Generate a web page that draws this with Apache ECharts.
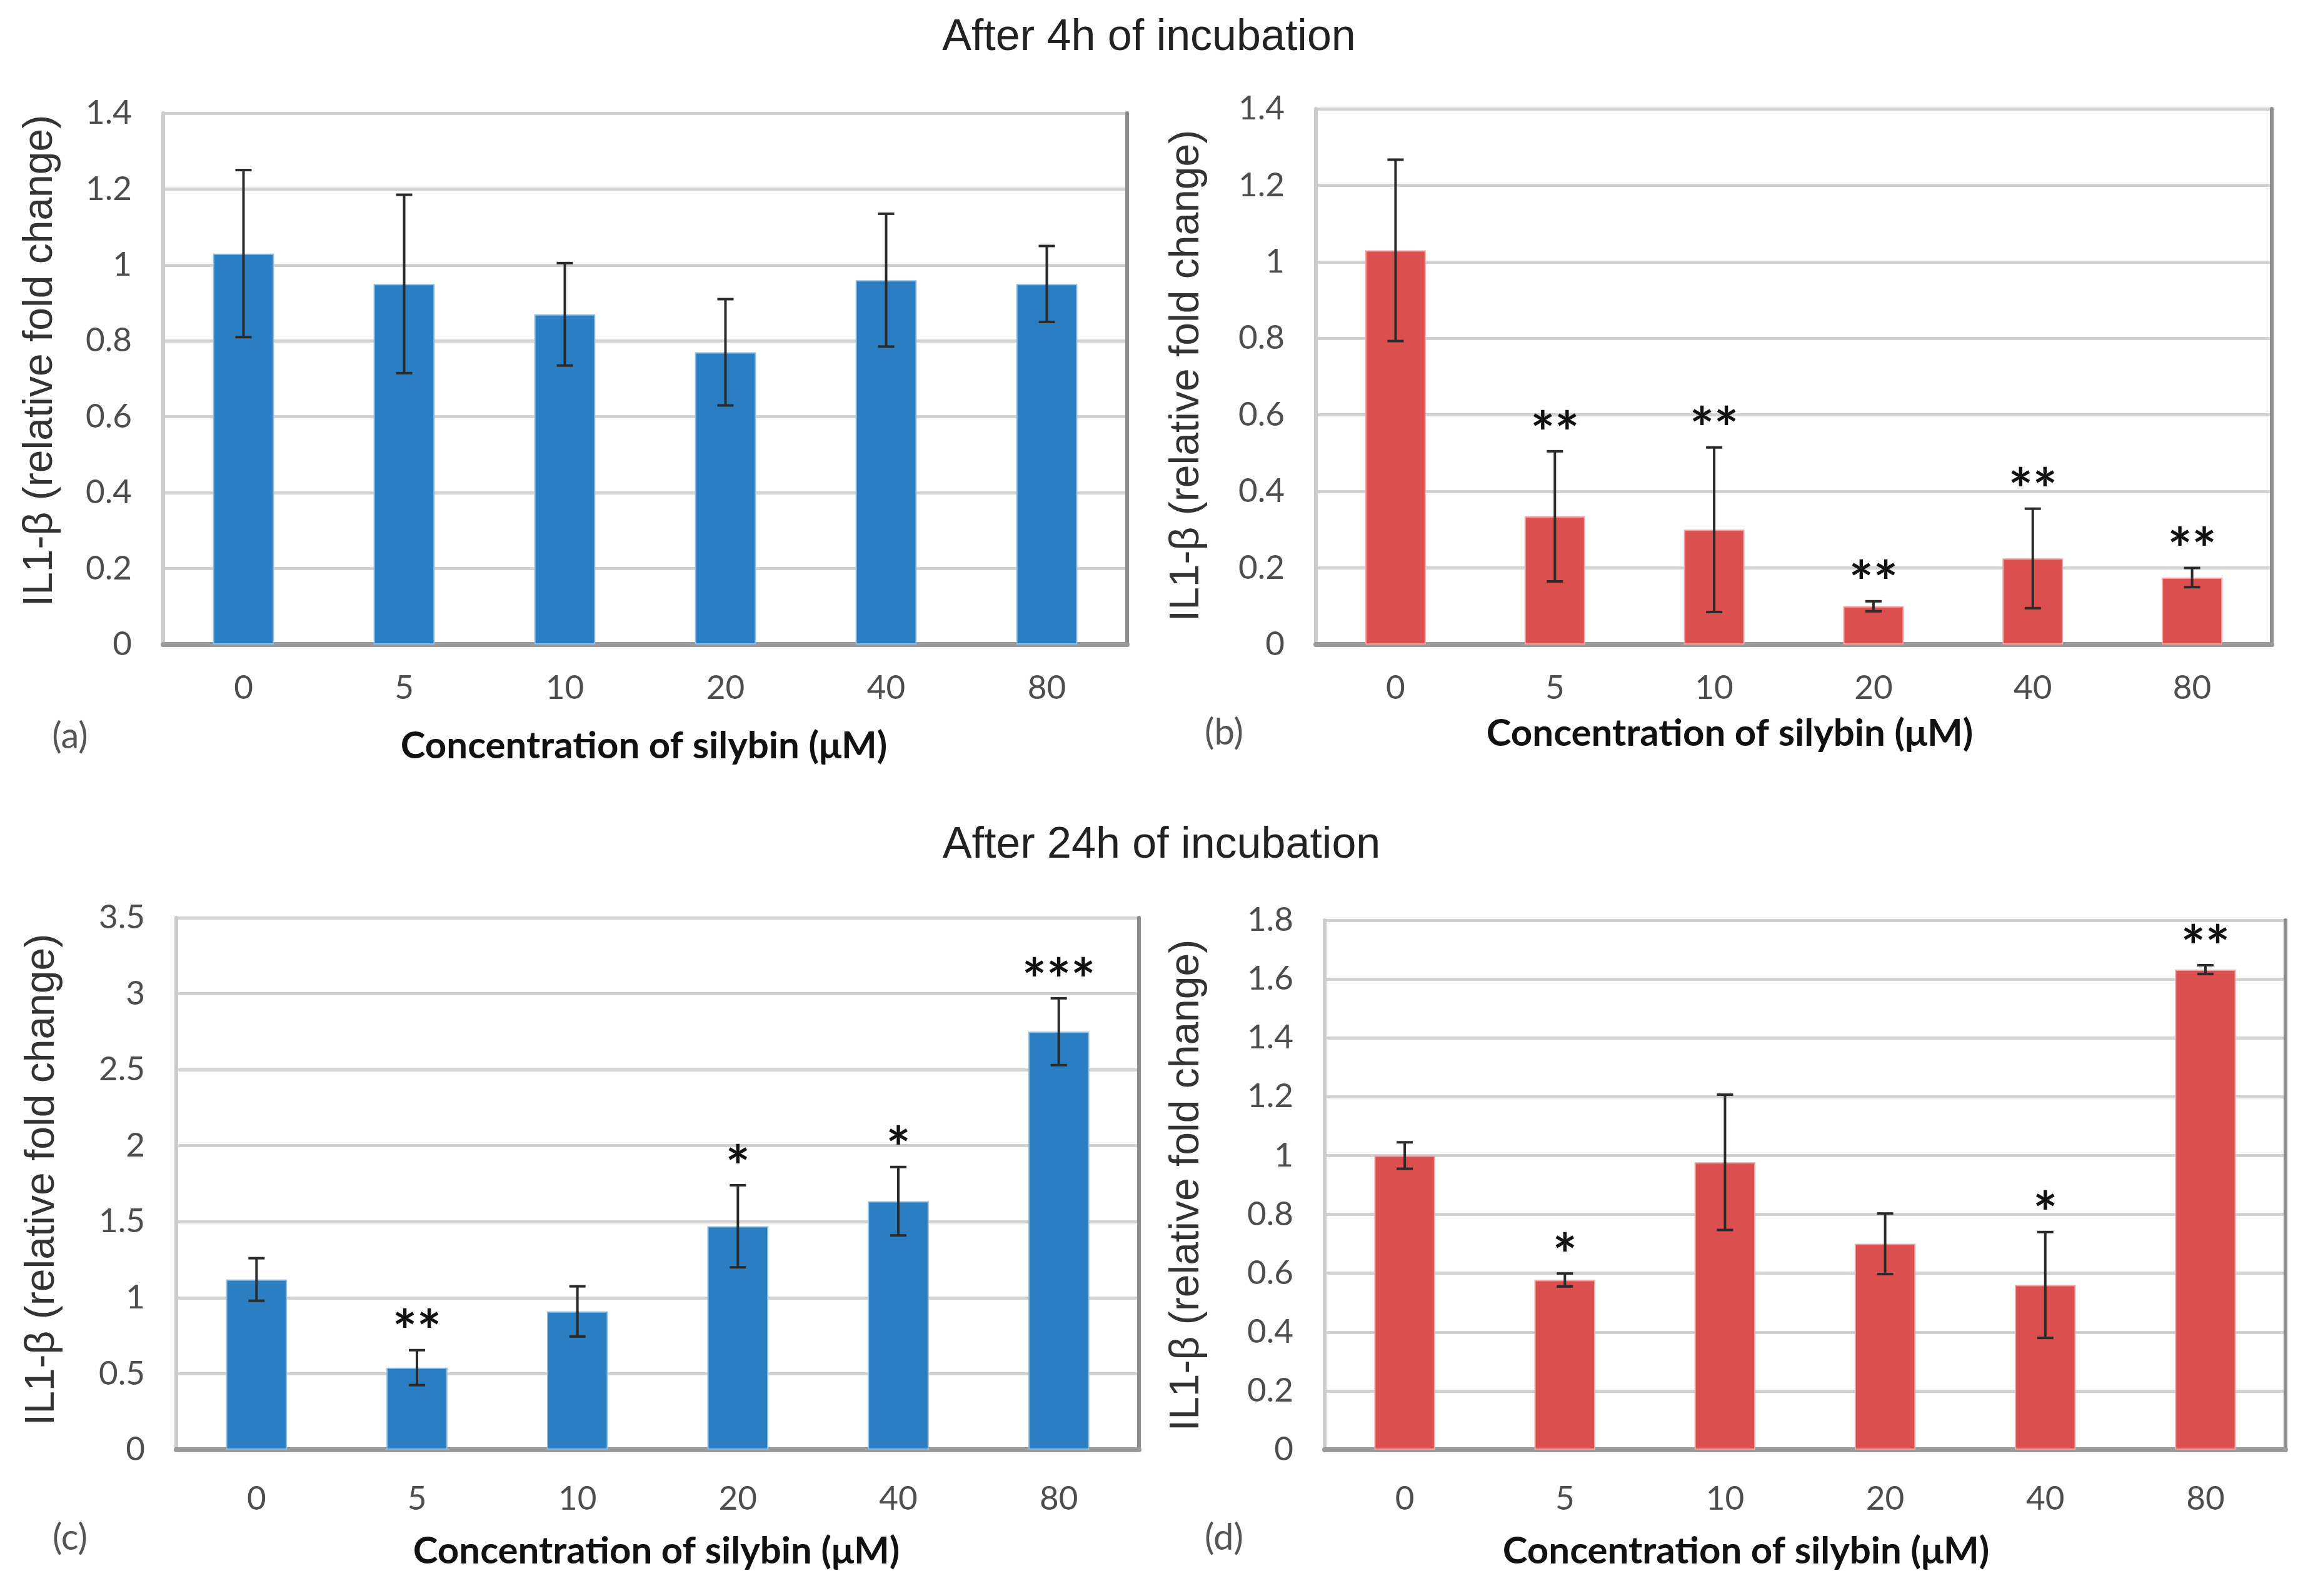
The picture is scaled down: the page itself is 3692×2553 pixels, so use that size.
<!DOCTYPE html>
<html><head><meta charset="utf-8">
<script src="https://cdn.jsdelivr.net/npm/echarts@6/dist/echarts.min.js"></script>
<style>html,body{margin:0;padding:0;background:#fff}#c{width:3692px;height:2553px}</style>
</head><body><div id="c"></div><script>
// ---- data ----
const categories = ['0', '5', '10', '20', '40', '80'];
const meanA = [1.03, 0.95, 0.87, 0.77, 0.96, 0.95];
const errA  = [0.22, 0.235, 0.135, 0.14, 0.175, 0.10];
const sigA  = ['', '', '', '', '', ''];
const meanB = [1.03, 0.335, 0.30, 0.10, 0.225, 0.175];
const errB  = [0.237, 0.17, 0.215, 0.013, 0.13, 0.025];
const sigB  = ['', '**', '**', '**', '**', '**'];
const meanC = [1.12, 0.54, 0.91, 1.47, 1.635, 2.75];
const errC  = [0.14, 0.115, 0.165, 0.27, 0.225, 0.22];
const sigC  = ['', '**', '', '*', '*', '***'];
const meanD = [1.0, 0.577, 0.977, 0.70, 0.56, 1.632];
const errD  = [0.045, 0.022, 0.23, 0.103, 0.18, 0.015];
const sigD  = ['', '*', '', '', '*', '**'];
const yMax  = [1.4, 1.4, 3.5, 1.8];
const yStep = [0.2, 0.2, 0.5, 0.2];
const panelLabels = ['(a)', '(b)', '(c)', '(d)'];
const titleTop = 'After 4h of incubation';
const titleBottom = 'After 24h of incubation';
const yName = 'IL1-\u03b2 (relative fold change)';
const xName = 'Concentration of silybin (\u03bcM)';

const BLUE = '#2b7ec1', RED = '#dc4f4f';
const panels = [
  {mean: meanA, err: errA, sig: sigA, color: BLUE, border: '#8fbde3', grid: {left: 261, right: 1889, top: 181, bottom: 1522}, xm: 43},
  {mean: meanB, err: errB, sig: sigB, color: RED,  border: '#f0a3a3', grid: {left: 2105, right: 58, top: 174, bottom: 1522}, xm: 43},
  {mean: meanC, err: errC, sig: sigC, color: BLUE, border: '#8fbde3', grid: {left: 282, right: 1870, top: 1468, bottom: 234}, xm: 52},
  {mean: meanD, err: errD, sig: sigD, color: RED,  border: '#f0a3a3', grid: {left: 2119, right: 36, top: 1472, bottom: 234}, xm: 52}
];

const TICKFONT = 'Lato';
const grids = [], xAxes = [], yAxes = [], series = [];
panels.forEach((p, i) => {
  grids.push(Object.assign({containLabel: false}, p.grid));
  xAxes.push({type: 'category', gridIndex: i, data: categories, position: 'bottom',
    axisLine: {lineStyle: {color: '#c8c8c8', width: 6}}, axisTick: {show: false},
    axisLabel: {fontFamily: TICKFONT, fontSize: 53, color: '#4d4d4d', margin: p.xm}});
  xAxes.push({type: 'category', gridIndex: i, data: categories, position: 'top',
    axisLine: {lineStyle: {color: '#9a9a9a', width: 8}}, axisTick: {show: false}, axisLabel: {show: false}});
  yAxes.push({type: 'value', gridIndex: i, min: 0, max: yMax[i], interval: yStep[i], position: 'left',
    axisLine: {show: true, lineStyle: {color: '#cccccc', width: 6}}, axisTick: {show: false},
    axisLabel: {fontFamily: TICKFONT, fontSize: 53, color: '#4d4d4d', margin: 50},
    splitLine: {show: true, lineStyle: {color: '#d2d2d2', width: 5}}});
  yAxes.push({type: 'value', gridIndex: i, min: 0, max: yMax[i], interval: yStep[i], position: 'right',
    axisLine: {show: true, lineStyle: {color: '#8c8c8c', width: 6}}, axisTick: {show: false},
    axisLabel: {show: false}, splitLine: {show: false}});
  series.push({type: 'bar', xAxisIndex: 2 * i, yAxisIndex: 2 * i, barWidth: '38%',
    data: p.mean, itemStyle: {color: p.color, borderColor: p.border, borderWidth: 2}, silent: true, z: 2});
  series.push({type: 'custom', xAxisIndex: 2 * i, yAxisIndex: 2 * i, z: 5, clip: false, silent: true,
    data: p.mean.map((m, k) => [k, m, p.err[k]]),
    renderItem: (params, api) => {
      const k = api.value(0), m = api.value(1), e = api.value(2);
      const t = api.coord([k, m + e]), b = api.coord([k, m - e]);
      const hw = 13, st = {stroke: '#2a2a2a', lineWidth: 4};
      const ch = [
        {type: 'line', shape: {x1: t[0], y1: t[1], x2: b[0], y2: b[1]}, style: st},
        {type: 'line', shape: {x1: t[0] - hw, y1: t[1], x2: t[0] + hw, y2: t[1]}, style: st},
        {type: 'line', shape: {x1: b[0] - hw, y1: b[1], x2: b[0] + hw, y2: b[1]}, style: st}
      ];
      const s = p.sig[params.dataIndex];
      if (s) ch.push({type: 'text', style: {text: s, x: t[0], y: t[1] - 26, align: 'center', verticalAlign: 'middle',
        font: 'bold 92px Lato', fill: '#111111'}});
      return {type: 'group', children: ch};
    }});
});

const gtext = (text, x, y, font, fill, rot) => ({type: 'text', x: x, y: y, rotation: rot || 0,
  style: {text: text, align: 'center', verticalAlign: 'middle', font: font, fill: fill}});
const YF = '66px "Liberation Sans", Arial, sans-serif';
const XF = 'bold 60px Lato, sans-serif';
const PF = '58px Lato, sans-serif';
const graphic = [
  gtext(titleTop, 1838, 61, '70px "Liberation Sans", Arial, sans-serif', '#222222'),
  gtext(titleBottom, 1858, 1353, '70px "Liberation Sans", Arial, sans-serif', '#222222'),
  gtext(yName, 65, 577, YF, '#333333', Math.PI / 2),
  gtext(yName, 1899, 601, YF, '#333333', Math.PI / 2),
  gtext(yName, 68, 1887, YF, '#333333', Math.PI / 2),
  gtext(yName, 1899, 1896, YF, '#333333', Math.PI / 2),
  gtext(xName, 1030, 1194, XF, '#111111'),
  gtext(xName, 2767, 1174, XF, '#111111'),
  gtext(xName, 1050, 2482, XF, '#111111'),
  gtext(xName, 2793, 2482, XF, '#111111'),
  gtext(panelLabels[0], 112, 1178, PF, '#555555'),
  gtext(panelLabels[1], 1958, 1172, PF, '#555555'),
  gtext(panelLabels[2], 112, 2460, PF, '#555555'),
  gtext(panelLabels[3], 1958, 2460, PF, '#555555')
];

const chart = echarts.init(document.getElementById('c'), null, {renderer: 'canvas'});
chart.setOption({backgroundColor: '#ffffff', animation: false, grid: grids, xAxis: xAxes, yAxis: yAxes, series: series, graphic: graphic});
</script></body></html>
